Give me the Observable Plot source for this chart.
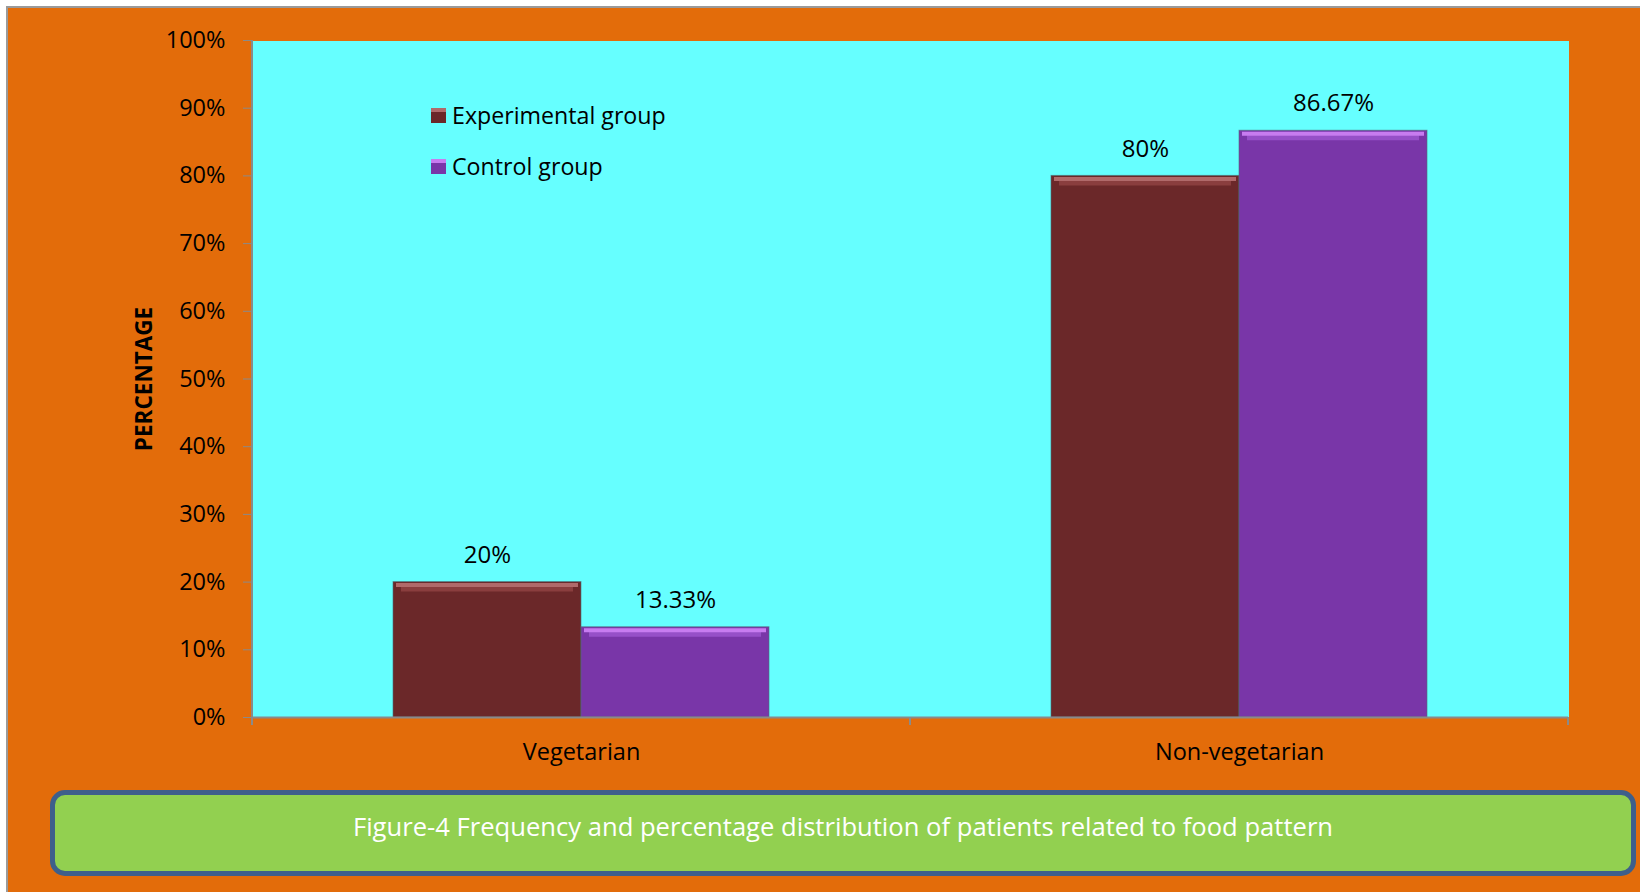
<!DOCTYPE html>
<html>
<head>
<meta charset="utf-8">
<script src="https://cdn.jsdelivr.net/npm/d3@7"></script>
<script src="https://cdn.jsdelivr.net/npm/@observablehq/plot@0.6"></script>
<style>
  html, body { margin: 0; padding: 0; background: #ffffff; }
  body { width: 1640px; height: 892px; position: relative; overflow: hidden; font-family: "Open Sans", sans-serif; }
  #bg { position: absolute; left: 6px; top: 6px; width: 1640px; height: 892px; background: #e36c0a; border-left: 2px solid #9a9a9a; border-top: 2px solid #9a9a9a; }
  #chart { position: absolute; left: 0; top: 0; }
  #ytitle { position: absolute; left: 143px; top: 379px; transform: translate(-50%, -50%) rotate(-90deg); font-weight: bold; font-size: 22.5px; color: #000; white-space: nowrap; }
  .leg { position: absolute; display: flex; align-items: center; font-size: 23.2px; color: #000; white-space: nowrap; }
  .sw { width: 15px; height: 15px; margin-right: 6px; box-sizing: border-box; }
  #caption { position: absolute; left: 50px; top: 790px; width: 1586px; height: 86px; box-sizing: border-box; border: 5px solid #3e5f8b; border-radius: 15px; background: #92d050; color: #fff; font-size: 25.6px; display: flex; align-items: center; justify-content: center; padding-bottom: 14px; }
</style>
</head>
<body>
<div id="bg"></div>
<div id="chart"></div>
<div id="ytitle">PERCENTAGE</div>
<div id="legend"></div>
<div id="caption">Figure-4 Frequency and percentage distribution of patients related to food pattern</div>
<script>
const categories = ["Vegetarian", "Non-vegetarian"];
const groups = ["Experimental group", "Control group"];
const experimental = [20, 80];
const control = [13.33, 86.67];
const yTicks = [0, 10, 20, 30, 40, 50, 60, 70, 80, 90, 100];
const groupColors = ["#6b2829", "#7936a8"];
const highlightColors = ["#b06a6a", "#c77cf0"];
const midColors = ["#8a3e3e", "#9650c8"];

const data = categories.flatMap((c, i) => [
  {category: c, group: groups[0], value: experimental[i]},
  {category: c, group: groups[1], value: control[i]}
]);

const plot = Plot.plot({
  width: 1640,
  height: 780,
  marginLeft: 252,
  marginRight: 72,
  marginTop: 40,
  marginBottom: 63,
  style: {background: "transparent", fontFamily: "Open Sans", fontSize: "23.5px", color: "black", overflow: "visible"},
  fx: {domain: categories, padding: 0, label: null},
  x: {domain: groups, axis: null, paddingInner: 0, paddingOuter: 0.75},
  y: {domain: [0, 100], label: null},
  color: {domain: groups, range: groupColors},
  marks: [
    Plot.frame({fill: "#66ffff", stroke: null, shapeRendering: "crispEdges"}),
    Plot.barY(data, {fx: "category", x: "group", y: "value", fill: "group", stroke: "#4f6f78", strokeOpacity: 0.6, strokeWidth: 1}),
    ...groups.map((g, i) => Plot.tickY(data.filter(d => d.group === g), {fx: "category", x: "group", y: "value", stroke: midColors[i], strokeWidth: 5, dy: 7, insetLeft: 8, insetRight: 8})),
    ...groups.map((g, i) => Plot.tickY(data.filter(d => d.group === g), {fx: "category", x: "group", y: "value", stroke: highlightColors[i], strokeWidth: 4, dy: 3, insetLeft: 3, insetRight: 3})),
    Plot.ruleY([0], {stroke: "#8a8a8a", strokeWidth: 2}),
    Plot.text(data, {fx: "category", x: "group", y: "value", text: d => `${d.value}%`, dy: -27, fontSize: 24, fill: "black"}),
    Plot.axisY(yTicks, {tickSize: 9, tickPadding: 18, tickFormat: d => `${d}%`, stroke: "#8a8a8a", fill: "black", label: null, fontSize: 23.5}),
    Plot.axisFx({anchor: "bottom", tickSize: 0, tickPadding: 26, label: null, fontSize: 23.5})
  ]
});
document.getElementById("chart").appendChild(plot);

// axis line on the left and category boundary ticks, from Plot's scales
const svg = d3.select(plot);
const fx = plot.scale("fx");
const y = plot.scale("y");
const bw = fx.bandwidth;
const x0 = fx.apply(categories[0]);
const y0 = y.apply(0), y1 = y.apply(100);
svg.append("line").attr("x1", x0).attr("x2", x0).attr("y1", y1).attr("y2", y0).attr("stroke", "#8a8a8a").attr("stroke-width", 2);
const bounds = categories.map(c => fx.apply(c)).concat([fx.apply(categories[categories.length - 1]) + bw]);
svg.selectAll("line.bt").data(bounds).join("line").attr("class", "bt")
  .attr("x1", d => d).attr("x2", d => d).attr("y1", y0).attr("y2", y0 + 8)
  .attr("stroke", "#8a8a8a").attr("stroke-width", 2);

// legend inside the plot area
const legend = document.getElementById("legend");
const legendTops = [115, 166];
groups.forEach((g, i) => {
  const row = document.createElement("div");
  row.className = "leg";
  row.style.left = "431px";
  row.style.top = (legendTops[i] - 15) + "px";
  row.style.height = "30px";
  const sw = document.createElement("div");
  sw.className = "sw";
  sw.style.background = groupColors[i];
  sw.style.borderTop = "4px solid " + highlightColors[i];
  const t = document.createElement("span");
  t.textContent = g;
  row.appendChild(sw);
  row.appendChild(t);
  legend.appendChild(row);
});
</script>
</body>
</html>
